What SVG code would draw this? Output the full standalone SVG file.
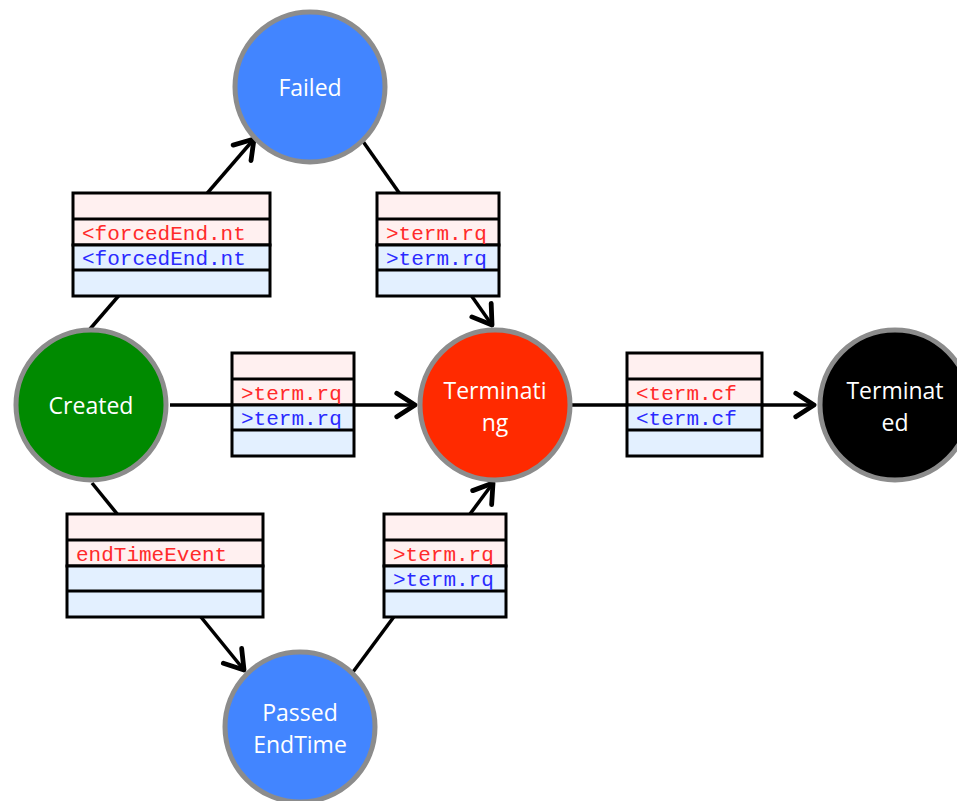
<svg xmlns="http://www.w3.org/2000/svg" width="957" height="801" viewBox="0 0 957 801">
<style>
.node{stroke:#8c8c8c;stroke-width:5}
.lbl{font-family:"Open Sans","DejaVu Sans",sans-serif;font-size:23px;fill:#ffffff;text-anchor:middle}
.edge{stroke:#000;stroke-width:3.5;fill:none;marker-end:url(#arr)}
.box rect{stroke:#000;stroke-width:3}
.box line{stroke:#000;stroke-width:3}
.pk{fill:#fff0f0}
.bl{fill:#e3f0ff}
.mono{font-family:"Liberation Mono","Courier New",monospace;font-size:21px}
.r{fill:#ff2a2a}
.b{fill:#2a2aff}
</style>
<defs>
<marker id="arr" markerUnits="userSpaceOnUse" markerWidth="30" markerHeight="30" viewBox="-22 -14 26 28" refX="0" refY="0" orient="auto">
<path d="M-17,-11 L0,0 L-17,11" fill="none" stroke="#000" stroke-width="4.5" stroke-linecap="round" stroke-linejoin="round"/>
</marker>
</defs>
<g id="connectors">
<line class="edge" x1="90" y1="329" x2="254" y2="139"/>
<line class="edge" x1="362" y1="140" x2="492" y2="325"/>
<line class="edge" x1="170" y1="405" x2="415" y2="405"/>
<line class="edge" x1="92" y1="483" x2="244" y2="670"/>
<line class="edge" x1="353" y1="672" x2="493" y2="483"/>
<line class="edge" x1="572" y1="405" x2="814" y2="405"/>
</g>
<g id="box-forcedEnd" class="box">
<rect class="pk" x="73" y="193" width="197" height="52"/>
<rect class="bl" x="73" y="245" width="197" height="51"/>
<line x1="73" y1="219" x2="270" y2="219"/>
<line x1="73" y1="270" x2="270" y2="270"/>
<text class="mono r" x="82" y="240">&lt;forcedEnd.nt</text>
<text class="mono b" x="82" y="265">&lt;forcedEnd.nt</text>
</g>
<g id="box-failed-term" class="box">
<rect class="pk" x="377" y="193" width="122" height="52"/>
<rect class="bl" x="377" y="245" width="122" height="51"/>
<line x1="377" y1="219" x2="499" y2="219"/>
<line x1="377" y1="270" x2="499" y2="270"/>
<text class="mono r" x="386" y="240">&gt;term.rq</text>
<text class="mono b" x="386" y="265">&gt;term.rq</text>
</g>
<g id="box-created-term" class="box">
<rect class="pk" x="232" y="353" width="122" height="52"/>
<rect class="bl" x="232" y="405" width="122" height="51"/>
<line x1="232" y1="379" x2="354" y2="379"/>
<line x1="232" y1="430" x2="354" y2="430"/>
<text class="mono r" x="241" y="400">&gt;term.rq</text>
<text class="mono b" x="241" y="425">&gt;term.rq</text>
</g>
<g id="box-endTime" class="box">
<rect class="pk" x="67" y="514" width="196" height="52"/>
<rect class="bl" x="67" y="566" width="196" height="51"/>
<line x1="67" y1="540" x2="263" y2="540"/>
<line x1="67" y1="591" x2="263" y2="591"/>
<text class="mono r" x="76" y="561">endTimeEvent</text>
</g>
<g id="box-passed-term" class="box">
<rect class="pk" x="384" y="514" width="122" height="52"/>
<rect class="bl" x="384" y="566" width="122" height="51"/>
<line x1="384" y1="540" x2="506" y2="540"/>
<line x1="384" y1="591" x2="506" y2="591"/>
<text class="mono r" x="393" y="561">&gt;term.rq</text>
<text class="mono b" x="393" y="586">&gt;term.rq</text>
</g>
<g id="box-term-cf" class="box">
<rect class="pk" x="627" y="353" width="135" height="52"/>
<rect class="bl" x="627" y="405" width="135" height="51"/>
<line x1="627" y1="379" x2="762" y2="379"/>
<line x1="627" y1="430" x2="762" y2="430"/>
<text class="mono r" x="636" y="400">&lt;term.cf</text>
<text class="mono b" x="636" y="425">&lt;term.cf</text>
</g>
<g id="node-failed">
<circle class="node" cx="310" cy="87" r="75" fill="#4285ff"/>
<text class="lbl" x="310" y="96">Failed</text>
</g>
<g id="node-created">
<circle class="node" cx="91" cy="405" r="75" fill="#008a00"/>
<text class="lbl" x="91" y="414">Created</text>
</g>
<g id="node-terminating">
<circle class="node" cx="495" cy="405" r="75" fill="#ff2a00"/>
<text class="lbl" x="495" y="399">Terminati</text>
<text class="lbl" x="495" y="431">ng</text>
</g>
<g id="node-terminated">
<circle class="node" cx="895" cy="405" r="75" fill="#000000"/>
<text class="lbl" x="895" y="399">Terminat</text>
<text class="lbl" x="895" y="431">ed</text>
</g>
<g id="node-passed">
<circle class="node" cx="300" cy="727" r="75" fill="#4285ff"/>
<text class="lbl" x="300" y="721">Passed</text>
<text class="lbl" x="300" y="753">EndTime</text>
</g>
</svg>
